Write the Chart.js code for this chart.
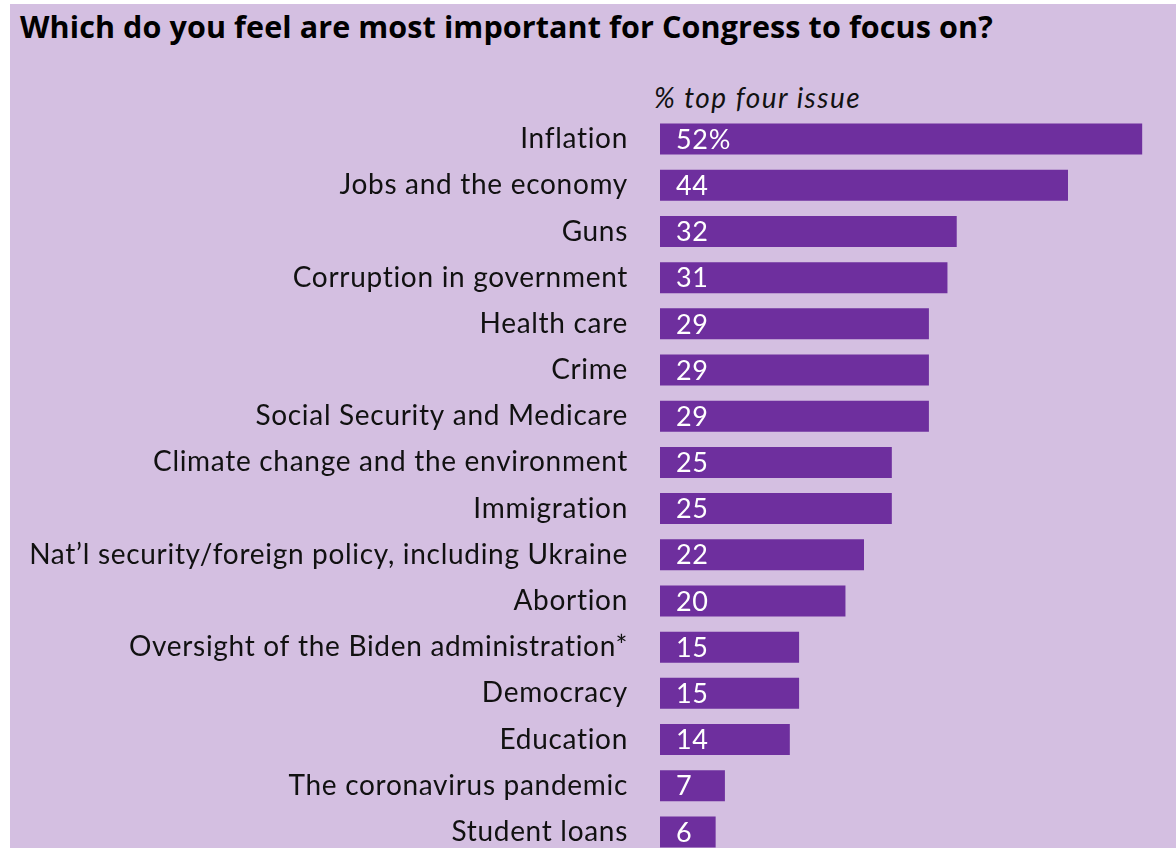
<!DOCTYPE html>
<html>
<head>
<meta charset="utf-8">
<script src="https://cdn.jsdelivr.net/npm/chart.js@4"></script>
<style>
    html, body { margin: 0; padding: 0; background: #ffffff; overflow: hidden; }
    #panel {
        position: absolute; left: 10px; top: 4px; width: 1166px; height: 880px;
        background: #d4bfe1;
    }
    #title {
        position: absolute; left: 10px; top: 1px; margin: 0;
        font-family: "Open Sans", sans-serif; font-weight: 700; font-size: 30.5px; color: #000;
        letter-spacing: 0.1px; white-space: nowrap;
    }
    #subtitle {
        position: absolute; left: 644px; top: 76px; margin: 0;
        font-family: Lato, sans-serif; font-style: italic; font-size: 28px; color: #111;
        letter-spacing: 1.5px; white-space: nowrap;
    }
    #chart { position: absolute; left: 0; top: -4px; }
</style>
</head>
<body>
<div id="panel">
    <div id="title">Which do you feel are most important for Congress to focus on?</div>
    <div id="subtitle">% top four issue</div>
    <canvas id="chart" width="1166" height="870"></canvas>
</div>
<script>
const issues = [
    'Inflation',
    'Jobs and the economy',
    'Guns',
    'Corruption in government',
    'Health care',
    'Crime',
    'Social Security and Medicare',
    'Climate change and the environment',
    'Immigration',
    'Nat\u2019l security/foreign policy, including Ukraine',
    'Abortion',
    'Oversight of the Biden administration*',
    'Democracy',
    'Education',
    'The coronavirus pandemic',
    'Student loans'
];
const topFour = [52, 44, 32, 31, 29, 29, 29, 25, 25, 22, 20, 15, 15, 14, 7, 6];

const barColor = '#6e2f9e';
const labelFont = 'Lato, sans-serif';

// a bit of tracking so Lato gets closer to the wider original face
const tracking = {
    id: 'tracking',
    beforeDraw(chart) {
        chart.ctx.letterSpacing = '0.7px';
    }
};

// white value labels drawn inside the left end of each bar
const valueLabels = {
    id: 'valueLabels',
    afterDatasetsDraw(chart) {
        const ctx = chart.ctx;
        const meta = chart.getDatasetMeta(0);
        ctx.save();
        ctx.fillStyle = '#ffffff';
        ctx.font = '27px ' + labelFont;
        ctx.textAlign = 'left';
        ctx.textBaseline = 'middle';
        meta.data.forEach((bar, i) => {
            const txt = i === 0 ? topFour[i] + '%' : String(topFour[i]);
            ctx.fillText(txt, bar.base + 16, bar.y + 1);
        });
        ctx.restore();
    }
};

new Chart(document.getElementById('chart'), {
    type: 'bar',
    data: {
        labels: issues,
        datasets: [{
            data: topFour,
            backgroundColor: barColor,
            borderWidth: 0,
            barPercentage: 0.67,
            categoryPercentage: 1
        }]
    },
    options: {
        indexAxis: 'y',
        responsive: false,
        animation: false,
        layout: { padding: { top: 116, bottom: 15, left: 0, right: 6 } },
        plugins: {
            legend: { display: false },
            tooltip: { enabled: false }
        },
        scales: {
            x: {
                display: false,
                min: 0,
                max: 55
            },
            y: {
                afterFit(scale) {
                    scale.width = 650;
                    // tick padding would otherwise eat into the top/bottom of the plot
                    scale.paddingTop = 0;
                    scale.paddingBottom = 0;
                },
                grid: { display: false, drawTicks: false },
                border: { display: false },
                ticks: {
                    padding: 32,
                    color: '#111111',
                    font: { family: labelFont, size: 28 }
                }
            }
        }
    },
    plugins: [tracking, valueLabels]
});
</script>
</body>
</html>
